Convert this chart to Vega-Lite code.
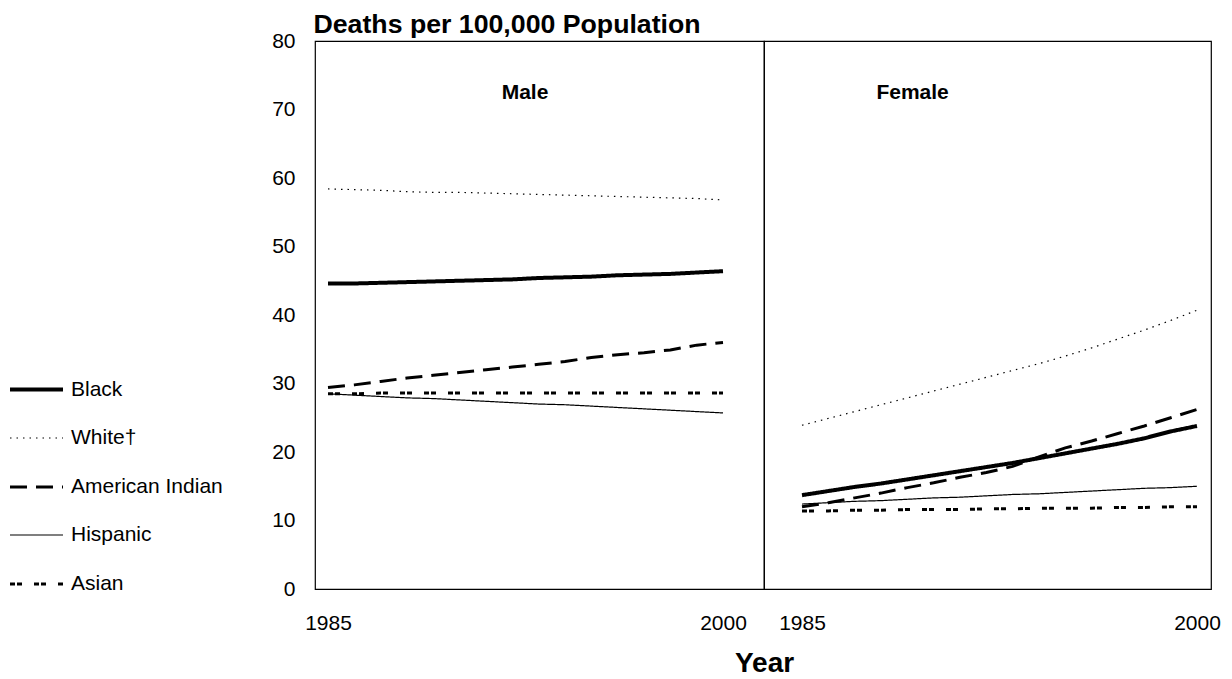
{
"$schema": "https://vega.github.io/schema/vega-lite/v6.json",
"background": "white",
"padding": {"left": 8, "top": 10, "right": 20, "bottom": 5},
"config": {"view": {"stroke": "black", "strokeWidth": 1.2}, "font": "Liberation Sans", "concat": {"spacing": 0}},
"spacing": 0,
"bounds": "flush",
"data": {"values": [
{"sex":"Male","race":"Black","year":1985,"rate":44.6},{"sex":"Male","race":"Black","year":1986,"rate":44.6},{"sex":"Male","race":"Black","year":1987,"rate":44.7},{"sex":"Male","race":"Black","year":1988,"rate":44.8},{"sex":"Male","race":"Black","year":1989,"rate":44.9},{"sex":"Male","race":"Black","year":1990,"rate":45.0},{"sex":"Male","race":"Black","year":1991,"rate":45.1},{"sex":"Male","race":"Black","year":1992,"rate":45.2},{"sex":"Male","race":"Black","year":1993,"rate":45.4},{"sex":"Male","race":"Black","year":1994,"rate":45.5},{"sex":"Male","race":"Black","year":1995,"rate":45.6},{"sex":"Male","race":"Black","year":1996,"rate":45.8},{"sex":"Male","race":"Black","year":1997,"rate":45.9},{"sex":"Male","race":"Black","year":1998,"rate":46.0},{"sex":"Male","race":"Black","year":1999,"rate":46.2},{"sex":"Male","race":"Black","year":2000,"rate":46.4},
{"sex":"Male","race":"White†","year":1985,"rate":58.4},{"sex":"Male","race":"White†","year":1986,"rate":58.3},{"sex":"Male","race":"White†","year":1987,"rate":58.2},{"sex":"Male","race":"White†","year":1988,"rate":58.0},{"sex":"Male","race":"White†","year":1989,"rate":57.9},{"sex":"Male","race":"White†","year":1990,"rate":57.9},{"sex":"Male","race":"White†","year":1991,"rate":57.8},{"sex":"Male","race":"White†","year":1992,"rate":57.7},{"sex":"Male","race":"White†","year":1993,"rate":57.6},{"sex":"Male","race":"White†","year":1994,"rate":57.5},{"sex":"Male","race":"White†","year":1995,"rate":57.4},{"sex":"Male","race":"White†","year":1996,"rate":57.3},{"sex":"Male","race":"White†","year":1997,"rate":57.2},{"sex":"Male","race":"White†","year":1998,"rate":57.1},{"sex":"Male","race":"White†","year":1999,"rate":57.0},{"sex":"Male","race":"White†","year":2000,"rate":56.8},
{"sex":"Male","race":"American Indian","year":1985,"rate":29.4},{"sex":"Male","race":"American Indian","year":1986,"rate":29.8},{"sex":"Male","race":"American Indian","year":1987,"rate":30.3},{"sex":"Male","race":"American Indian","year":1988,"rate":30.8},{"sex":"Male","race":"American Indian","year":1989,"rate":31.2},{"sex":"Male","race":"American Indian","year":1990,"rate":31.6},{"sex":"Male","race":"American Indian","year":1991,"rate":32.0},{"sex":"Male","race":"American Indian","year":1992,"rate":32.4},{"sex":"Male","race":"American Indian","year":1993,"rate":32.8},{"sex":"Male","race":"American Indian","year":1994,"rate":33.2},{"sex":"Male","race":"American Indian","year":1995,"rate":33.8},{"sex":"Male","race":"American Indian","year":1996,"rate":34.2},{"sex":"Male","race":"American Indian","year":1997,"rate":34.5},{"sex":"Male","race":"American Indian","year":1998,"rate":34.9},{"sex":"Male","race":"American Indian","year":1999,"rate":35.6},{"sex":"Male","race":"American Indian","year":2000,"rate":36.0},
{"sex":"Male","race":"Hispanic","year":1985,"rate":28.5},{"sex":"Male","race":"Hispanic","year":1986,"rate":28.3},{"sex":"Male","race":"Hispanic","year":1987,"rate":28.1},{"sex":"Male","race":"Hispanic","year":1988,"rate":27.9},{"sex":"Male","race":"Hispanic","year":1989,"rate":27.8},{"sex":"Male","race":"Hispanic","year":1990,"rate":27.6},{"sex":"Male","race":"Hispanic","year":1991,"rate":27.4},{"sex":"Male","race":"Hispanic","year":1992,"rate":27.2},{"sex":"Male","race":"Hispanic","year":1993,"rate":27.0},{"sex":"Male","race":"Hispanic","year":1994,"rate":26.9},{"sex":"Male","race":"Hispanic","year":1995,"rate":26.7},{"sex":"Male","race":"Hispanic","year":1996,"rate":26.5},{"sex":"Male","race":"Hispanic","year":1997,"rate":26.3},{"sex":"Male","race":"Hispanic","year":1998,"rate":26.1},{"sex":"Male","race":"Hispanic","year":1999,"rate":25.9},{"sex":"Male","race":"Hispanic","year":2000,"rate":25.7},
{"sex":"Male","race":"Asian","year":1985,"rate":28.5},{"sex":"Male","race":"Asian","year":1986,"rate":28.5},{"sex":"Male","race":"Asian","year":1987,"rate":28.6},{"sex":"Male","race":"Asian","year":1988,"rate":28.6},{"sex":"Male","race":"Asian","year":1989,"rate":28.6},{"sex":"Male","race":"Asian","year":1990,"rate":28.6},{"sex":"Male","race":"Asian","year":1991,"rate":28.6},{"sex":"Male","race":"Asian","year":1992,"rate":28.6},{"sex":"Male","race":"Asian","year":1993,"rate":28.6},{"sex":"Male","race":"Asian","year":1994,"rate":28.6},{"sex":"Male","race":"Asian","year":1995,"rate":28.6},{"sex":"Male","race":"Asian","year":1996,"rate":28.6},{"sex":"Male","race":"Asian","year":1997,"rate":28.6},{"sex":"Male","race":"Asian","year":1998,"rate":28.6},{"sex":"Male","race":"Asian","year":1999,"rate":28.6},{"sex":"Male","race":"Asian","year":2000,"rate":28.6},
{"sex":"Female","race":"Black","year":1985,"rate":13.7},{"sex":"Female","race":"Black","year":1986,"rate":14.3},{"sex":"Female","race":"Black","year":1987,"rate":14.9},{"sex":"Female","race":"Black","year":1988,"rate":15.4},{"sex":"Female","race":"Black","year":1989,"rate":16.0},{"sex":"Female","race":"Black","year":1990,"rate":16.6},{"sex":"Female","race":"Black","year":1991,"rate":17.2},{"sex":"Female","race":"Black","year":1992,"rate":17.8},{"sex":"Female","race":"Black","year":1993,"rate":18.4},{"sex":"Female","race":"Black","year":1994,"rate":19.1},{"sex":"Female","race":"Black","year":1995,"rate":19.8},{"sex":"Female","race":"Black","year":1996,"rate":20.5},{"sex":"Female","race":"Black","year":1997,"rate":21.2},{"sex":"Female","race":"Black","year":1998,"rate":22.0},{"sex":"Female","race":"Black","year":1999,"rate":23.0},{"sex":"Female","race":"Black","year":2000,"rate":23.8},
{"sex":"Female","race":"White†","year":1985,"rate":23.9},{"sex":"Female","race":"White†","year":1986,"rate":24.9},{"sex":"Female","race":"White†","year":1987,"rate":25.9},{"sex":"Female","race":"White†","year":1988,"rate":26.9},{"sex":"Female","race":"White†","year":1989,"rate":27.9},{"sex":"Female","race":"White†","year":1990,"rate":28.9},{"sex":"Female","race":"White†","year":1991,"rate":29.9},{"sex":"Female","race":"White†","year":1992,"rate":30.9},{"sex":"Female","race":"White†","year":1993,"rate":31.9},{"sex":"Female","race":"White†","year":1994,"rate":32.9},{"sex":"Female","race":"White†","year":1995,"rate":34.0},{"sex":"Female","race":"White†","year":1996,"rate":35.2},{"sex":"Female","race":"White†","year":1997,"rate":36.5},{"sex":"Female","race":"White†","year":1998,"rate":37.8},{"sex":"Female","race":"White†","year":1999,"rate":39.2},{"sex":"Female","race":"White†","year":2000,"rate":40.7},
{"sex":"Female","race":"American Indian","year":1985,"rate":12.0},{"sex":"Female","race":"American Indian","year":1986,"rate":12.6},{"sex":"Female","race":"American Indian","year":1987,"rate":13.3},{"sex":"Female","race":"American Indian","year":1988,"rate":14.0},{"sex":"Female","race":"American Indian","year":1989,"rate":14.8},{"sex":"Female","race":"American Indian","year":1990,"rate":15.5},{"sex":"Female","race":"American Indian","year":1991,"rate":16.3},{"sex":"Female","race":"American Indian","year":1992,"rate":17.0},{"sex":"Female","race":"American Indian","year":1993,"rate":17.9},{"sex":"Female","race":"American Indian","year":1994,"rate":19.3},{"sex":"Female","race":"American Indian","year":1995,"rate":20.6},{"sex":"Female","race":"American Indian","year":1996,"rate":21.6},{"sex":"Female","race":"American Indian","year":1997,"rate":22.7},{"sex":"Female","race":"American Indian","year":1998,"rate":23.8},{"sex":"Female","race":"American Indian","year":1999,"rate":25.0},{"sex":"Female","race":"American Indian","year":2000,"rate":26.2},
{"sex":"Female","race":"Hispanic","year":1985,"rate":12.4},{"sex":"Female","race":"Hispanic","year":1986,"rate":12.6},{"sex":"Female","race":"Hispanic","year":1987,"rate":12.8},{"sex":"Female","race":"Hispanic","year":1988,"rate":12.9},{"sex":"Female","race":"Hispanic","year":1989,"rate":13.1},{"sex":"Female","race":"Hispanic","year":1990,"rate":13.3},{"sex":"Female","race":"Hispanic","year":1991,"rate":13.4},{"sex":"Female","race":"Hispanic","year":1992,"rate":13.6},{"sex":"Female","race":"Hispanic","year":1993,"rate":13.8},{"sex":"Female","race":"Hispanic","year":1994,"rate":13.9},{"sex":"Female","race":"Hispanic","year":1995,"rate":14.1},{"sex":"Female","race":"Hispanic","year":1996,"rate":14.3},{"sex":"Female","race":"Hispanic","year":1997,"rate":14.5},{"sex":"Female","race":"Hispanic","year":1998,"rate":14.7},{"sex":"Female","race":"Hispanic","year":1999,"rate":14.8},{"sex":"Female","race":"Hispanic","year":2000,"rate":15.0},
{"sex":"Female","race":"Asian","year":1985,"rate":11.4},{"sex":"Female","race":"Asian","year":1986,"rate":11.4},{"sex":"Female","race":"Asian","year":1987,"rate":11.5},{"sex":"Female","race":"Asian","year":1988,"rate":11.5},{"sex":"Female","race":"Asian","year":1989,"rate":11.6},{"sex":"Female","race":"Asian","year":1990,"rate":11.6},{"sex":"Female","race":"Asian","year":1991,"rate":11.6},{"sex":"Female","race":"Asian","year":1992,"rate":11.7},{"sex":"Female","race":"Asian","year":1993,"rate":11.7},{"sex":"Female","race":"Asian","year":1994,"rate":11.8},{"sex":"Female","race":"Asian","year":1995,"rate":11.8},{"sex":"Female","race":"Asian","year":1996,"rate":11.8},{"sex":"Female","race":"Asian","year":1997,"rate":11.9},{"sex":"Female","race":"Asian","year":1998,"rate":11.9},{"sex":"Female","race":"Asian","year":1999,"rate":12.0},{"sex":"Female","race":"Asian","year":2000,"rate":12.0}
]},
"hconcat": [
{
"width": 449, "height": 548,
"layer": [
{
"transform": [{"filter": "datum.sex === 'Male'"}],
"mark": {"type": "line", "color": "black", "strokeCap": "butt"},
"encoding": {
"x": {"field": "year", "type": "quantitative", "scale": {"domain": [1984.506, 2001.557], "nice": false, "zero": false},
  "axis": {"values": [1985, 2000], "format": "d", "grid": false, "ticks": false, "tickSize": 0, "domain": false, "labelFontSize": 21, "labelPadding": 23, "labelColor": "black", "labelFont": "Liberation Sans",
   "title": "Year", "titleX": 449, "titleY": 82, "titleAlign": "center", "titleBaseline": "alphabetic", "titleFontSize": 28, "titleFontWeight": "bold", "titleColor": "black", "titleFont": "Liberation Sans"}},
"y": {"field": "rate", "type": "quantitative", "scale": {"domain": [0, 80], "nice": false},
  "axis": {"values": [0, 10, 20, 30, 40, 50, 60, 70, 80], "grid": false, "ticks": false, "tickSize": 0, "domain": false, "labelPadding": 20, "labelFontSize": 21, "labelColor": "black", "labelFont": "Liberation Sans",
   "title": "Deaths per 100,000 Population", "titleAngle": 0, "titleAlign": "left", "titleBaseline": "alphabetic", "titleX": -2, "titleY": -9, "titleFontSize": 26.7, "titleFontWeight": "bold", "titleColor": "black", "titleFont": "Liberation Sans"}},
"strokeDash": {"field": "race", "type": "nominal",
  "scale": {"domain": ["Black", "White†", "American Indian", "Hispanic", "Asian"], "range": [[1, 0], [1.5, 5], [17, 9], [1, 0], [5, 2, 5, 12]]},
  "legend": {"orient": "none", "legendX": -307, "legendY": 320, "title": null, "symbolType": "stroke", "symbolSize": 2809, "symbolStrokeColor": "black", "labelFontSize": 21, "labelColor": "black", "labelFont": "Liberation Sans", "labelOffset": 6, "rowPadding": 10.5}},
"strokeWidth": {"field": "race", "type": "nominal",
  "scale": {"type": "ordinal", "domain": ["Black", "White†", "American Indian", "Hispanic", "Asian"], "range": [4, 1.2, 3, 1.2, 3]},
  "legend": {"orient": "none", "legendX": -307, "legendY": 320, "title": null, "symbolType": "stroke", "symbolSize": 2809, "symbolStrokeColor": "black", "labelFontSize": 21, "labelColor": "black", "labelFont": "Liberation Sans", "labelOffset": 6, "rowPadding": 10.5}}
}
},
{
"data": {"values": [{"label": "Male"}]},
"mark": {"type": "text", "fontSize": 21, "fontWeight": "bold", "font": "Liberation Sans", "color": "black", "baseline": "middle", "align": "center"},
"encoding": {"x": {"datum": 1992.48, "type": "quantitative"}, "y": {"datum": 72.4, "type": "quantitative"}, "text": {"field": "label"}}
}
]
},
{
"width": 447, "height": 548,
"layer": [
{
"transform": [{"filter": "datum.sex === 'Female'"}],
"mark": {"type": "line", "color": "black", "strokeCap": "butt"},
"encoding": {
"x": {"field": "year", "type": "quantitative", "scale": {"domain": [1983.557, 2000.532], "nice": false, "zero": false},
  "axis": {"values": [1985, 2000], "format": "d", "title": null, "grid": false, "ticks": false, "tickSize": 0, "domain": false, "labelFontSize": 21, "labelPadding": 23, "labelColor": "black", "labelFont": "Liberation Sans"}},
"y": {"field": "rate", "type": "quantitative", "scale": {"domain": [0, 80], "nice": false}, "axis": null},
"strokeDash": {"field": "race", "type": "nominal",
  "scale": {"domain": ["Black", "White†", "American Indian", "Hispanic", "Asian"], "range": [[1, 0], [1.5, 5], [17, 9], [1, 0], [5, 2, 5, 12]]}},
"strokeWidth": {"field": "race", "type": "nominal",
  "scale": {"type": "ordinal", "domain": ["Black", "White†", "American Indian", "Hispanic", "Asian"], "range": [4, 1.2, 3, 1.2, 3]}}
}
},
{
"data": {"values": [{"label": "Female"}]},
"mark": {"type": "text", "fontSize": 21, "fontWeight": "bold", "font": "Liberation Sans", "color": "black", "baseline": "middle", "align": "center"},
"encoding": {"x": {"datum": 1989.2, "type": "quantitative"}, "y": {"datum": 72.4, "type": "quantitative"}, "text": {"field": "label"}}
}
]
}
]
}
